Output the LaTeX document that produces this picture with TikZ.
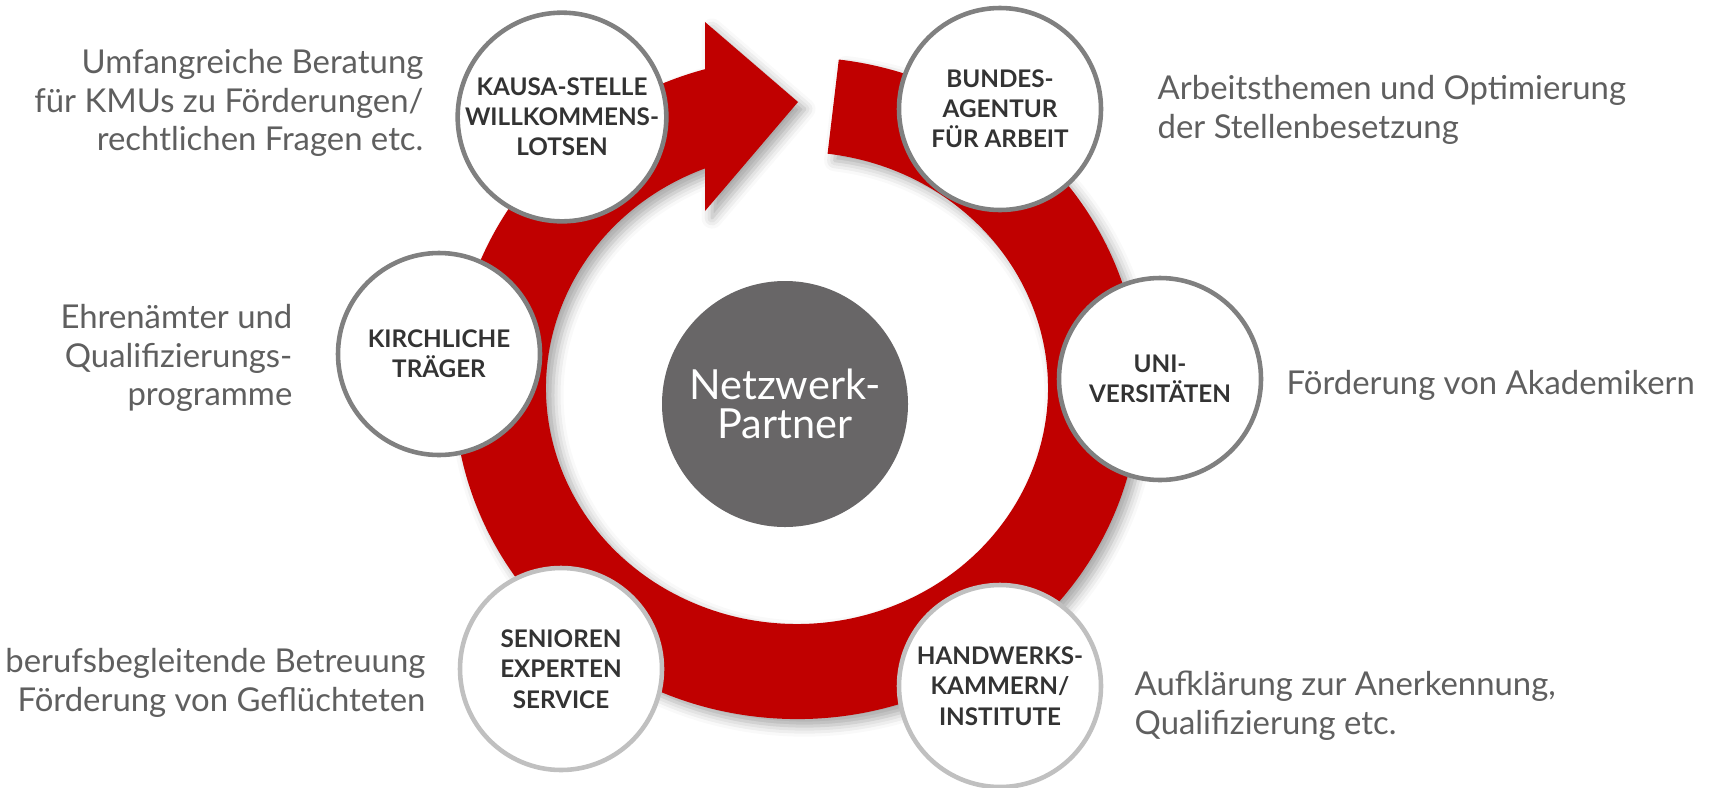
\documentclass[tikz,border=0pt]{standalone}
\usepackage{fontspec}
\setmainfont{Lato}
\usetikzlibrary{shadows.blur}
\definecolor{ringred}{RGB}{192,0,0}
\definecolor{hubgray}{RGB}{104,102,103}
\definecolor{rimgray}{RGB}{128,128,128}
\definecolor{rimlight}{RGB}{192,192,192}
\definecolor{labelgray}{RGB}{51,51,51}
\definecolor{notegray}{RGB}{95,95,95}
\newcommand*\partnerfont{\fontsize{6.9}{8.6}\selectfont\bfseries}
\newcommand*\hubfont{\fontsize{11.8}{11}\selectfont}
\newcommand*\notefont{\fontsize{9.35}{11}\selectfont}
\tikzset{
    partner/.style={circle,draw=rimgray,line width=1.3pt,fill=white,minimum size=2.02cm,inner sep=0pt,align=center,font=\partnerfont,text=labelgray},
    partnerlow/.style={partner,draw=rimlight},
    hub/.style={circle,fill=hubgray,minimum size=2.46cm,inner sep=0pt,align=center,font=\hubfont,text=white},
    note/.style={inner sep=0pt,font=\notefont,text=notegray},
    ring/.style={fill=ringred,blur shadow={shadow xshift=2pt,shadow yshift=-2pt,shadow blur radius=3pt,shadow opacity=35}},
}

\begin{document}
\begin{tikzpicture}
    \useasboundingbox (0,0) rectangle (17.15,7.87);
    % red ring arrow
    \path[ring] (8.388,7.275) arc[start angle=83,end angle=-254.44,x radius=3.43,y radius=3.31]
        -- (7.05,7.65) -- (7.98,6.85) -- (7.05,5.76) -- (7.05,6.186)
        arc[start angle=-248.5,end angle=83,x radius=2.51,y radius=2.36] -- cycle;
    \node[hub] (hub) at (7.85,3.83) {Netzwerk-\\Partner};
    \node[partner] (kausa) at (5.62,6.70) {KAUSA-STELLE\\WILLKOMMENS-\\LOTSEN};
    \node[partner] (bund) at (10.00,6.78) {BUNDES-\\AGENTUR\\FÜR ARBEIT};
    \node[partner] (kirche) at (4.39,4.33) {KIRCHLICHE\\TRÄGER};
    \node[partner] (uni) at (11.60,4.08) {UNI-\\VERSITÄTEN};
    \node[partnerlow] (ses) at (5.61,1.18) {SENIOREN\\EXPERTEN\\SERVICE};
    \node[partnerlow] (hwk) at (10.00,1.01) {HANDWERKS-\\KAMMERN/\\INSTITUTE};
    % descriptions
    \node[note,anchor=east,align=right] (nkausa) at (4.24,6.84) {Umfangreiche Beratung\\für KMUs zu Förderungen/\\rechtlichen Fragen etc.};
    \node[note,anchor=east,align=right] (nkirche) at (2.93,4.29) {Ehrenämter und\\Qualifizierungs-\\programme};
    \node[note,anchor=east,align=right] (nses) at (4.26,1.04) {berufsbegleitende Betreuung\\Förderung von Geflüchteten};
    \node[note,anchor=west,align=left] (nbund) at (11.57,6.77) {Arbeitsthemen und Optimierung\\der Stellenbesetzung};
    \node[note,anchor=west] (nuni) at (12.86,4.02) {Förderung von Akademikern};
    \node[note,anchor=west,align=left] (nhwk) at (11.34,0.81) {Aufklärung zur Anerkennung,\\Qualifizierung etc.};
\end{tikzpicture}
\end{document}
